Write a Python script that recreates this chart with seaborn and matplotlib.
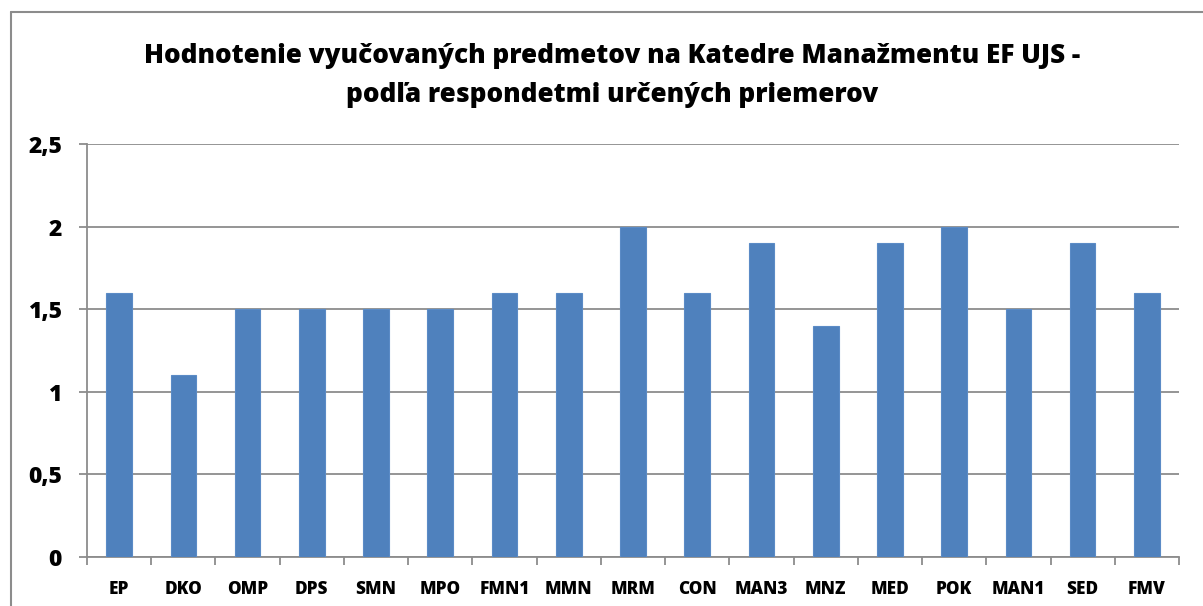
import matplotlib
matplotlib.use("Agg")
import matplotlib.pyplot as plt
import seaborn as sns
import pandas as pd
from matplotlib.ticker import FuncFormatter, MultipleLocator
from matplotlib.lines import Line2D

categories = ["EP", "DKO", "OMP", "DPS", "SMN", "MPO", "FMN1", "MMN", "MRM",
              "CON", "MAN3", "MNZ", "MED", "POK", "MAN1", "SED", "FMV"]
values = [1.6, 1.1, 1.5, 1.5, 1.5, 1.5, 1.6, 1.6, 2.0,
          1.6, 1.9, 1.4, 1.9, 2.0, 1.5, 1.9, 1.6]
title_lines = ["Hodnotenie vyučovaných predmetov na Katedre Manažmentu EF UJS -",
               "podľa respondetmi určených priemerov"]

sns.set_theme(style="white")
plt.rcParams['font.family'] = ['Open Sans', 'DejaVu Sans']
plt.rcParams['text.color'] = 'black'
plt.rcParams['xtick.labelcolor'] = 'black'
plt.rcParams['ytick.labelcolor'] = 'black'

df = pd.DataFrame({"cat": categories, "val": values})

fig = plt.figure(figsize=(12.03, 6.06), dpi=100)
W, H = 1203, 606
ax = fig.add_axes([87 / W, 1 - 557 / H, (1179 - 87) / W, (557 - 144) / H])

sns.barplot(data=df, x="cat", y="val", color="#4F81BD", saturation=1,
            width=0.4, ax=ax, zorder=3, edgecolor="#5B8BC6", linewidth=0.8)

ax.set_ylim(0, 2.5)
ax.set_xlim(-0.5, len(categories) - 0.5)
ax.yaxis.set_major_locator(MultipleLocator(0.5))
ax.yaxis.set_major_formatter(FuncFormatter(lambda v, p: ("%g" % v).replace(".", ",")))
ax.grid(axis="y", color="#8C8C8C", linewidth=1.3, zorder=0)
ax.set_axisbelow(True)
for s in ["top", "right"]:
    ax.spines[s].set_visible(False)
for s in ["left", "bottom"]:
    ax.spines[s].set_color("#8C8C8C")
    ax.spines[s].set_linewidth(1.3)
ax.set_xlabel("")
ax.set_ylabel("")

ax.set_xticks([i - 0.5 for i in range(len(categories) + 1)], minor=False)
ax.set_xticklabels([])
ax.set_xticks(range(len(categories)), minor=True)
ax.set_xticklabels(categories, minor=True, fontsize=12.3, fontweight="heavy", color="black")
ax.tick_params(axis="x", which="major", length=6, color="#8C8C8C", width=1.3, direction="out", bottom=True)
ax.tick_params(axis="x", which="minor", length=0, pad=17)
ax.tick_params(axis="y", length=6, color="#8C8C8C", width=1.3, direction="out", left=True, pad=12)
for lbl in ax.get_yticklabels():
    lbl.set_fontsize(16.5)
    lbl.set_fontweight("heavy")
    lbl.set_color("black")

fig.text(0.509, 1 - 63 / H, title_lines[0], ha="center", va="baseline",
         fontsize=18.8, fontweight="heavy", color="black")
fig.text(0.509, 1 - 102 / H, title_lines[1], ha="center", va="baseline",
         fontsize=18.8, fontweight="heavy", color="black")

# chart border (top and left only visible)
fig.add_artist(Line2D([11 / W, 11 / W], [0, 1 - 12 / H], transform=fig.transFigure, color="#8C8C8C", linewidth=1.5))
fig.add_artist(Line2D([11 / W, 1], [1 - 12 / H, 1 - 12 / H], transform=fig.transFigure, color="#8C8C8C", linewidth=1.5))

fig.savefig("out.png", dpi=100)
